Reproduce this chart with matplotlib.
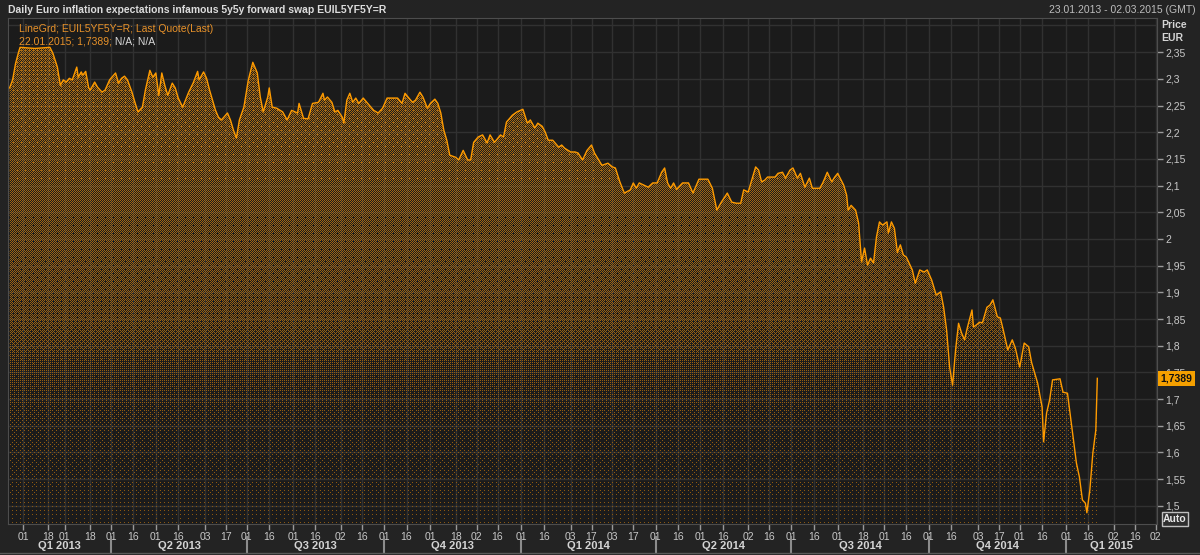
import numpy as np
import pandas as pd
import matplotlib
matplotlib.use("Agg")
import matplotlib.pyplot as plt
import matplotlib.dates as mdates
from matplotlib.transforms import blended_transform_factory
from matplotlib.lines import Line2D

plt.rcParams['font.family'] = ['Liberation Sans', 'DejaVu Sans']

# EUIL5YF5Y=R, daily, days counted from 23.01.2013
start_date = "2013-01-23"
days = [
    0, 2, 4, 6, 7, 17, 27, 29, 32, 34,
    36, 38, 40, 42, 45, 46, 48, 49, 51, 53,
    54, 57, 59, 62, 64, 67, 71, 73, 75, 77,
    79, 82, 84, 86, 89, 91, 94, 96, 98, 100,
    102, 104, 106, 109, 111, 113, 116, 120, 123, 126,
    127, 130, 132, 134, 138, 140, 142, 146, 148, 150,
    152, 154, 157, 160, 163, 166, 168, 170, 173, 174,
    176, 179, 183, 186, 189, 193, 194, 197, 200, 203,
    207, 210, 211, 213, 216, 218, 220, 223, 224, 226,
    228, 230, 232, 234, 237, 240, 244, 247, 250, 253,
    260, 263, 265, 267, 270, 272, 275, 277, 280, 282,
    285, 287, 289, 291, 293, 295, 299, 301, 304, 307,
    309, 311, 314, 317, 320, 322, 325, 329, 331, 333,
    337, 340, 344, 347, 349, 352, 354, 357, 359, 361,
    364, 368, 370, 372, 376, 379, 381, 384, 387, 390,
    392, 397, 401, 404, 406, 409, 412, 416, 418, 420,
    422, 425, 428, 431, 434, 437, 439, 441, 443, 445,
    447, 451, 455, 458, 462, 468, 471, 474, 477, 481,
    484, 487, 490, 492, 495, 498, 500, 502, 504, 506,
    508, 513, 515, 518, 520, 523, 525, 528, 530, 533,
    536, 538, 543, 545, 548, 551, 553, 555, 559, 561,
    562, 564, 567, 569, 571, 573, 575, 577, 579, 581,
    583, 585, 588, 589, 591, 593, 595, 597, 599, 601,
    605, 607, 610, 613, 615, 618, 621, 624, 626, 628,
    630, 632, 634, 636, 638, 640, 642, 645, 646, 648,
    650, 652, 655, 657, 659, 662, 664, 666, 669, 672,
    674, 677, 680, 683, 685, 687, 689, 692, 693, 695,
    697, 699, 704, 706, 709, 713, 715, 717, 719, 721,
    722, 724, 726, 728, 729,
]
swap_rate = [
    2.283, 2.298, 2.329, 2.350, 2.359, 2.357, 2.359, 2.348, 2.322, 2.288,
    2.298, 2.294, 2.301, 2.298, 2.322, 2.303, 2.313, 2.307, 2.314, 2.283,
    2.279, 2.294, 2.284, 2.275, 2.279, 2.298, 2.311, 2.292, 2.301, 2.305,
    2.298, 2.275, 2.256, 2.238, 2.247, 2.279, 2.316, 2.303, 2.311, 2.269,
    2.311, 2.288, 2.269, 2.292, 2.283, 2.264, 2.247, 2.275, 2.292, 2.314,
    2.298, 2.313, 2.301, 2.279, 2.241, 2.228, 2.223, 2.236, 2.223, 2.204,
    2.189, 2.223, 2.247, 2.298, 2.331, 2.311, 2.266, 2.238, 2.266, 2.283,
    2.247, 2.245, 2.238, 2.223, 2.241, 2.236, 2.254, 2.226, 2.225, 2.254,
    2.256, 2.273, 2.260, 2.266, 2.256, 2.238, 2.241, 2.228, 2.217, 2.260,
    2.273, 2.256, 2.264, 2.254, 2.264, 2.254, 2.241, 2.236, 2.245, 2.264,
    2.264, 2.254, 2.273, 2.266, 2.256, 2.260, 2.275, 2.266, 2.245, 2.254,
    2.262, 2.254, 2.236, 2.204, 2.185, 2.157, 2.153, 2.148, 2.166, 2.148,
    2.148, 2.181, 2.191, 2.195, 2.180, 2.195, 2.181, 2.195, 2.191, 2.219,
    2.232, 2.238, 2.243, 2.217, 2.223, 2.208, 2.217, 2.211, 2.200, 2.185,
    2.185, 2.172, 2.176, 2.170, 2.163, 2.163, 2.161, 2.148, 2.166, 2.176,
    2.161, 2.138, 2.142, 2.135, 2.133, 2.107, 2.086, 2.092, 2.105, 2.095,
    2.105, 2.101, 2.097, 2.105, 2.105, 2.125, 2.133, 2.105, 2.095, 2.105,
    2.093, 2.105, 2.105, 2.086, 2.112, 2.112, 2.095, 2.054, 2.069, 2.086,
    2.069, 2.067, 2.067, 2.092, 2.088, 2.116, 2.135, 2.129, 2.107, 2.110,
    2.116, 2.116, 2.123, 2.125, 2.114, 2.129, 2.133, 2.114, 2.123, 2.097,
    2.114, 2.095, 2.095, 2.105, 2.125, 2.107, 2.116, 2.123, 2.101, 2.082,
    2.054, 2.063, 2.054, 2.030, 1.957, 1.983, 1.951, 1.964, 1.955, 2.004,
    2.032, 2.026, 2.032, 2.011, 2.032, 2.020, 1.975, 1.989, 1.970, 1.966,
    1.942, 1.917, 1.942, 1.938, 1.942, 1.923, 1.895, 1.901, 1.872, 1.829,
    1.760, 1.726, 1.792, 1.842, 1.824, 1.811, 1.835, 1.867, 1.835, 1.839,
    1.844, 1.843, 1.872, 1.876, 1.886, 1.854, 1.852, 1.829, 1.792, 1.811,
    1.796, 1.760, 1.805, 1.798, 1.768, 1.749, 1.730, 1.685, 1.620, 1.674,
    1.698, 1.736, 1.738, 1.713, 1.711, 1.623, 1.580, 1.554, 1.511, 1.505,
    1.487, 1.530, 1.599, 1.642, 1.7389,
]

tick_dates = [
    "2013-02-01", "2013-02-18", "2013-03-01", "2013-03-18", "2013-04-01",
    "2013-04-16", "2013-05-01", "2013-05-16", "2013-06-03", "2013-06-17",
    "2013-07-01", "2013-07-16", "2013-08-01", "2013-08-16", "2013-09-02",
    "2013-09-16", "2013-10-01", "2013-10-16", "2013-11-01", "2013-11-18",
    "2013-12-02", "2013-12-16", "2014-01-01", "2014-01-16", "2014-02-03",
    "2014-02-17", "2014-03-03", "2014-03-17", "2014-04-01", "2014-04-16",
    "2014-05-01", "2014-05-16", "2014-06-02", "2014-06-16", "2014-07-01",
    "2014-07-16", "2014-08-01", "2014-08-18", "2014-09-01", "2014-09-16",
    "2014-10-01", "2014-10-16", "2014-11-03", "2014-11-17", "2014-12-01",
    "2014-12-16", "2015-01-01", "2015-01-16", "2015-02-02", "2015-02-16",
    "2015-03-02",
]
quarter_names = ["Q1 2013", "Q2 2013", "Q3 2013", "Q4 2013",
                 "Q1 2014", "Q2 2014", "Q3 2014", "Q4 2014", "Q1 2015"]
quarter_starts = ["2013-01-01", "2013-04-01", "2013-07-01", "2013-10-01",
                  "2014-01-01", "2014-04-01", "2014-07-01", "2014-10-01",
                  "2015-01-01", "2015-04-01"]
y_ticks = [1.5, 1.55, 1.6, 1.65, 1.7, 1.75, 1.8, 1.85, 1.9, 1.95,
           2.0, 2.05, 2.1, 2.15, 2.2, 2.25, 2.3, 2.35]
last_value = 1.7389

BG = '#232323'
PLOT_BG = '#1b1b1b'
GRID = '#313131'
ORANGE = '#ff9b00'
TXT = '#c8c8c8'


def bayer(n):
    m = np.array([[0, 2], [3, 1]])
    while m.shape[0] < n:
        m = np.block([[4 * m, 4 * m + 2], [4 * m + 3, 4 * m + 1]])
    return (m + 0.5) / m.size


dates = pd.Timestamp(start_date) + pd.to_timedelta(days, unit='D')
x = mdates.date2num(dates.to_pydatetime())
y = np.array(swap_rate)

x0 = mdates.date2num(pd.Timestamp("2013-01-21 22:00"))
x1 = mdates.date2num(pd.Timestamp("2015-03-03"))
y0, y1 = 1.466, 2.414

W_PX, H_PX = 1200, 555
fig = plt.figure(figsize=(W_PX / 100, H_PX / 100), dpi=100, facecolor=BG)
ax = fig.add_axes([8 / W_PX, 31 / H_PX, 1149 / W_PX, 506 / H_PX], facecolor=PLOT_BG)

# dithered orange fill, dense at the top, sparse dots at the bottom
h, w = 506, 1149
rows = np.arange(h)
level = np.interp(rows, [0, 180, 300, 350, 410, 505], [0.58, 0.5, 0.45, 0.26, 0.12, 0.05])
thr = np.tile(bayer(8), (h // 8 + 1, w // 8 + 1))[:h, :w]
shade = np.interp(rows, [0, 505], [1.0, 0.8])[:, None, None]
base = np.array([0.68, 0.43, 0.08])
img = np.zeros((h, w, 4))
img[..., :3] = base * shade
img[..., 3] = (level[:, None] > thr).astype(float)
area = ax.fill_between(x, y, y0, facecolor='none', edgecolor='none')
im = ax.imshow(img, extent=(x0, x1, y0, y1), aspect='auto',
               interpolation='nearest', origin='upper', zorder=1)
im.set_clip_path(area.get_paths()[0], transform=ax.transData)

ax.plot(x, y, color=ORANGE, lw=1.0, zorder=3)

ax.set_xlim(x0, x1)
ax.set_ylim(y0, y1)

# axes, ticks, grid
ax.yaxis.tick_right()
ax.set_yticks(y_ticks)
ax.set_yticklabels([f"{v:.2f}".rstrip('0').rstrip('.').replace('.', ',') for v in y_ticks])
xt = mdates.date2num(pd.to_datetime(tick_dates).to_pydatetime())
ax.set_xticks(xt)
ax.set_xticklabels([d[-2:] for d in tick_dates])
ax.tick_params(axis='both', colors='#9a9a9a', labelcolor=TXT, labelsize=7.5,
               length=4, width=1, pad=2)
ax.grid(True, color=GRID, lw=1)
ax.axhline(2.4, color=GRID, lw=1, zorder=0.5)
ax.set_axisbelow(True)
for s in ax.spines.values():
    s.set_color('#4d4d4d')

# quarter labels under the day ticks
trans = blended_transform_factory(ax.transData, ax.transAxes)
qs = mdates.date2num(pd.to_datetime(quarter_starts).to_pydatetime())
for i, name in enumerate(quarter_names):
    lo, hi = max(qs[i], x0), min(qs[i + 1], x1)
    ax.text((lo + hi) / 2, -0.0435, name, transform=trans, ha='center', va='center',
            fontsize=8, fontweight='bold', color='#d4d4d4', clip_on=False)
    if x0 < qs[i] < x1:
        ax.plot([qs[i], qs[i]], [-0.026, -0.058], transform=trans, color='#8c8c8c',
                lw=1.5, clip_on=False)

# header texts
fig.text(8 / W_PX, 1 - 10 / H_PX,
         "Daily Euro inflation expectations infamous 5y5y forward swap EUIL5YF5Y=R",
         fontsize=7.5, fontweight='bold', color='#dcdcdc', va='center')
fig.text(1196 / W_PX, 1 - 10 / H_PX, "23.01.2013 - 02.03.2015 (GMT)",
         fontsize=7.5, color='#bdbdbd', va='center', ha='right')
fig.text(1161 / W_PX, 1 - 25 / H_PX, "Price", fontsize=7.5, fontweight='bold',
         color='#d4d4d4', va='center')
fig.text(1161 / W_PX, 1 - 38 / H_PX, "EUR", fontsize=7.5, fontweight='bold',
         color='#d4d4d4', va='center')

# legend lines
ax.text(0.0096, 0.978, "LineGrd; EUIL5YF5Y=R; Last Quote(Last)", transform=ax.transAxes,
        fontsize=7.5, color='#e8922a', va='center')
t2 = ax.text(0.0096, 0.9526, "22.01.2015; 1,7389;", transform=ax.transAxes,
             fontsize=7.5, color='#e8922a', va='center')
ax.annotate(" N/A; N/A", xy=(1, 0), xycoords=t2, va='bottom', fontsize=7.5, color='#d8d8d8')

# last price marker
ytrans = blended_transform_factory(ax.transAxes, ax.transData)
ax.text(1.003, last_value, f"{last_value:.4f}".replace('.', ','), transform=ytrans,
        ha='left', va='center', fontsize=7.5, fontweight='bold', color='#111111',
        bbox=dict(boxstyle='square,pad=0.25', fc='#f5a000', ec='none'),
        clip_on=False, zorder=10)

fig.text(1175 / W_PX, 1 - 519 / H_PX, "Auto", ha='center', va='center', fontsize=7.5,
         fontweight='bold', color='#e6e6e6',
         bbox=dict(boxstyle='square,pad=0.15', fc='#2e2e2e', ec='#bfbfbf', lw=1))

fig.add_artist(Line2D([0, 1], [2 / H_PX, 2 / H_PX], color='#5a5a5a', lw=1))

fig.savefig("out.png", dpi=100, facecolor=BG)
